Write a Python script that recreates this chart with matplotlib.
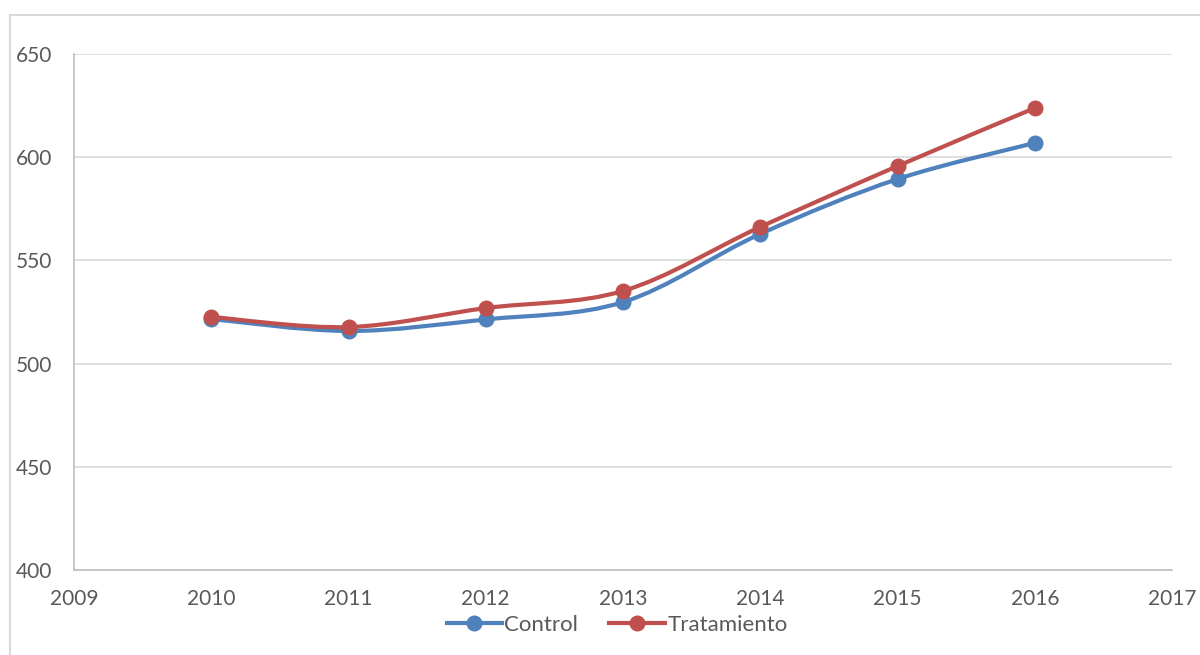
import matplotlib
matplotlib.use("Agg")
import matplotlib.pyplot as plt
import numpy as np
from matplotlib.path import Path
from matplotlib.patches import PathPatch, Rectangle
from matplotlib.lines import Line2D

years = [2010, 2011, 2012, 2013, 2014, 2015, 2016]
control = [521.6, 515.8, 521.4, 529.8, 562.8, 589.4, 606.9]
tratamiento = [522.6, 517.7, 526.9, 535.2, 566.2, 595.7, 623.8]
series_names = ["Control", "Tratamiento"]
colors = ["#4F81BD", "#C0504D"]
yticks = [400, 450, 500, 550, 600, 650]
xticks = list(range(2009, 2018))

plt.rcParams['font.family'] = ['Lato', 'DejaVu Sans']
text_color = "#595959"

fig = plt.figure(figsize=(12, 6.55), dpi=100)
ax = fig.add_axes([74/1200, 1 - 570/655, (1172-74)/1200, (570-54)/655])

# chart area border
fig.patches.append(Rectangle((10/1200, -0.1), 1.2, 1 - 15/655 + 0.1, transform=fig.transFigure,
                             fill=False, edgecolor="#D9D9D9", linewidth=1.5))


def smooth_path(xs, ys):
    xs = np.asarray(xs, float)
    ys = np.asarray(ys, float)
    n = len(xs)
    verts = [(xs[0], ys[0])]
    codes = [Path.MOVETO]
    for i in range(n - 1):
        p0 = (xs[max(i - 1, 0)], ys[max(i - 1, 0)])
        p1 = (xs[i], ys[i])
        p2 = (xs[i + 1], ys[i + 1])
        p3 = (xs[min(i + 2, n - 1)], ys[min(i + 2, n - 1)])
        c1 = (p1[0] + (p2[0] - p0[0]) / 6, p1[1] + (p2[1] - p0[1]) / 6)
        c2 = (p2[0] - (p3[0] - p1[0]) / 6, p2[1] - (p3[1] - p1[1]) / 6)
        verts += [c1, c2, p2]
        codes += [Path.CURVE4] * 3
    return Path(verts, codes)


for vals, col in zip([control, tratamiento], colors):
    ax.add_patch(PathPatch(smooth_path(years, vals), facecolor="none", edgecolor=col,
                           linewidth=3, capstyle="round", joinstyle="round", zorder=3))
    ax.plot(years, vals, linestyle="none", marker="o", markersize=10.5, color=col, zorder=4)

ax.set_xlim(2009, 2017)
ax.set_ylim(400, 650)
ax.set_xticks(xticks)
ax.set_yticks(yticks)
ax.yaxis.grid(True, color="#D9D9D9", linewidth=1.2)
ax.set_axisbelow(True)
for s in ["top", "right"]:
    ax.spines[s].set_visible(False)
ax.spines["left"].set_color("#BFBFBF")
ax.spines["bottom"].set_color("#BFBFBF")
ax.spines["left"].set_linewidth(1.2)
ax.spines["bottom"].set_linewidth(1.2)
ax.tick_params(axis="both", length=0, labelsize=15, labelcolor=text_color)
ax.tick_params(axis="x", pad=14)
for lbl in ax.get_yticklabels():
    lbl.set_horizontalalignment("left")
ax.tick_params(axis="y", pad=42)

handles = [Line2D([0], [0], color=c, linewidth=3, marker="o", markersize=10.5) for c in colors]
fig.legend(handles, series_names, loc="center", bbox_to_anchor=(617/1200, 1 - 625/655),
           ncol=2, frameon=False, fontsize=16, labelcolor=text_color,
           handlelength=2.5, handletextpad=0.1, columnspacing=1.4)

fig.savefig("out.png", dpi=100)
